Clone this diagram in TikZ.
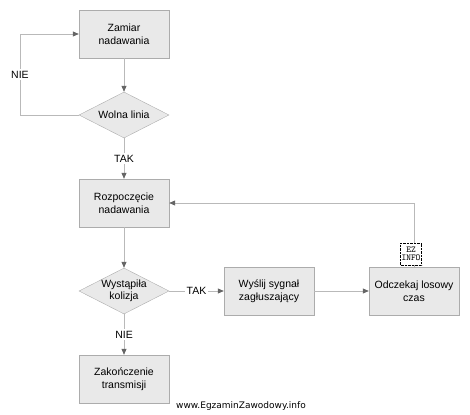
\documentclass[tikz,border=0pt]{standalone}
\usepackage{fontspec}
\setmainfont{Liberation Sans}
\newfontfamily\markfont{DejaVu Sans}
\usetikzlibrary{shapes,positioning,arrows.meta}

\tikzset{
  box/.style={draw=gray!65, fill=gray!17, minimum width=90pt, minimum height=48pt, align=center, font=\fontsize{10.5}{12.5}\selectfont},
  decision/.style={diamond, draw=gray!65, fill=gray!17, aspect=1.95, inner sep=0pt, minimum width=90pt, minimum height=46pt, align=center, font=\fontsize{10.5}{12.5}\selectfont},
  flow/.style={draw=gray!55, line width=0.8pt, -{Triangle[length=6pt,width=5pt,color=gray!80!black]}},
  tag/.style={fill=white, inner sep=1.5pt, font=\fontsize{10.5}{12.5}\selectfont}
}

\begin{document}
\begin{tikzpicture}[x=1pt,y=-1pt]
    \useasboundingbox (0,0) rectangle (470,414);
    % main column
    \node[box] (zamiar) at (124,34) {Zamiar\\nadawania};
    \node[decision] (wolna) at (124,115) {Wolna linia};
    \node[box] (rozp) at (124,203) {Rozpoczęcie\\nadawania};
    \node[decision] (kolizja) at (124,291) {Wystąpiła\\kolizja};
    \node[box] (koniec) at (124,379) {Zakończenie\\transmisji};
    % right branch
    \node[box] (wyslij) at (269,291) {Wyślij sygnał\\zagłuszający};
    \node[box] (odczekaj) at (414,291) {Odczekaj losowy\\czas};
    \coordinate (petla) at (20,115);

    \draw[flow] (zamiar) -- (wolna);
    \draw[flow] (wolna.west) -- (petla) |- node[tag, pos=0.25] {NIE} (zamiar.west);
    \draw[flow] (wolna) -- node[tag] {TAK} (rozp);
    \draw[flow] (rozp) -- (kolizja);
    \draw[flow] (kolizja) -- node[tag] {TAK} (wyslij);
    \draw[flow] (kolizja) -- node[tag] {NIE} (koniec);
    \draw[flow] (wyslij) -- (odczekaj);
    \draw[flow] (odczekaj.north) |- (rozp.east);

    % watermarks
    \node[draw, densely dotted, fill=white, inner sep=0.8pt, minimum width=21pt, minimum height=22pt, align=center, font=\fontsize{9}{8.5}\selectfont\ttfamily] (ez) at (411,254) {EZ\\INFO};
    \node[font=\markfont\fontsize{9}{10}\selectfont] (www) at (241,406) {www.EgzaminZawodowy.info};
\end{tikzpicture}
\end{document}
